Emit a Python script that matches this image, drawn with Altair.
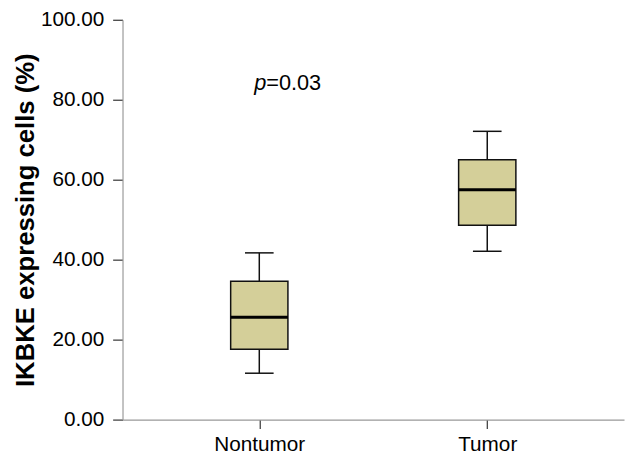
import altair as alt
import pandas as pd

groups = ["Nontumor", "Tumor"]
mins = [11.6, 42.1]
q1s = [17.6, 48.6]
medians = [25.6, 57.5]
q3s = [34.6, 65.0]
maxs = [41.7, 72.1]

y_ticks = [0, 20, 40, 60, 80, 100]
p_label_group = "Nontumor"
p_label_y = 84.2

df = pd.DataFrame({"group": groups, "min": mins, "q1": q1s, "median": medians,
                   "q3": q3s, "max": maxs})
ann = pd.DataFrame({"group": [p_label_group], "y": [p_label_y]})

FONT = "Liberation Sans"
BOX_W = 58
CAP_W = 29

xenc = alt.X("group:N", sort=groups, title=None,
             scale=alt.Scale(type="point", padding=0.6),
             axis=alt.Axis(labelAngle=0, labelFontSize=21, labelFont=FONT, labelColor="#000",
                           tickSize=9, tickColor="#333", tickWidth=1.2,
                           domainColor="#999", domainWidth=1.2, labelPadding=5))
yscale = alt.Scale(domain=[0, 100], nice=False, zero=True)
yaxis = alt.Axis(values=y_ticks, format=".2f", labelFontSize=21, labelFont=FONT,
                 labelColor="#000", tickSize=10, tickColor="#333", tickWidth=1.2,
                 domainColor="#999", domainWidth=1.2, labelPadding=9, grid=False,
                 title="IKBKE expressing cells (%)", titleFont=FONT, titleFontSize=26,
                 titleFontWeight="bold", titleColor="#000", titlePadding=2)

base = alt.Chart(df)

upper = base.mark_rule(color="#111", strokeWidth=1.5).encode(
    x=xenc, y=alt.Y("q3:Q", scale=yscale, axis=yaxis), y2="max:Q")
lower = base.mark_rule(color="#111", strokeWidth=1.5).encode(
    x=xenc, y=alt.Y("min:Q", scale=yscale), y2="q1:Q")
caps_top = base.mark_tick(color="#111", size=CAP_W, thickness=1.5, opacity=1).encode(
    x=xenc, y=alt.Y("max:Q", scale=yscale))
caps_bot = base.mark_tick(color="#111", size=CAP_W, thickness=1.5, opacity=1).encode(
    x=xenc, y=alt.Y("min:Q", scale=yscale))
box = base.mark_bar(size=BOX_W, fill="#d4cf99", stroke="#111", strokeWidth=1.5,
                    opacity=1).encode(
    x=xenc, y=alt.Y("q1:Q", scale=yscale), y2="q3:Q")
med = base.mark_tick(color="#000", size=BOX_W, thickness=3, opacity=1).encode(
    x=xenc, y=alt.Y("median:Q", scale=yscale))

ptxt = alt.Chart(ann).mark_text(text="p", fontStyle="italic", font=FONT, fontSize=22,
                                align="left", baseline="middle", dx=-5, color="#000").encode(
    x=alt.X("group:N", sort=groups), y=alt.Y("y:Q", scale=yscale))
vtxt = alt.Chart(ann).mark_text(text="=0.03", font=FONT, fontSize=22,
                                align="left", baseline="middle", dx=7, color="#000").encode(
    x=alt.X("group:N", sort=groups), y=alt.Y("y:Q", scale=yscale))

chart = alt.layer(upper, lower, caps_top, caps_bot, box, med, ptxt, vtxt).properties(
    width=508, height=405,
    autosize=alt.AutoSizeParams(type="none"),
    padding={"left": 116, "top": 9, "right": 2, "bottom": 38},
).configure_view(stroke=None)

chart.save("out.html", embed_options={"renderer": "svg", "actions": False})
